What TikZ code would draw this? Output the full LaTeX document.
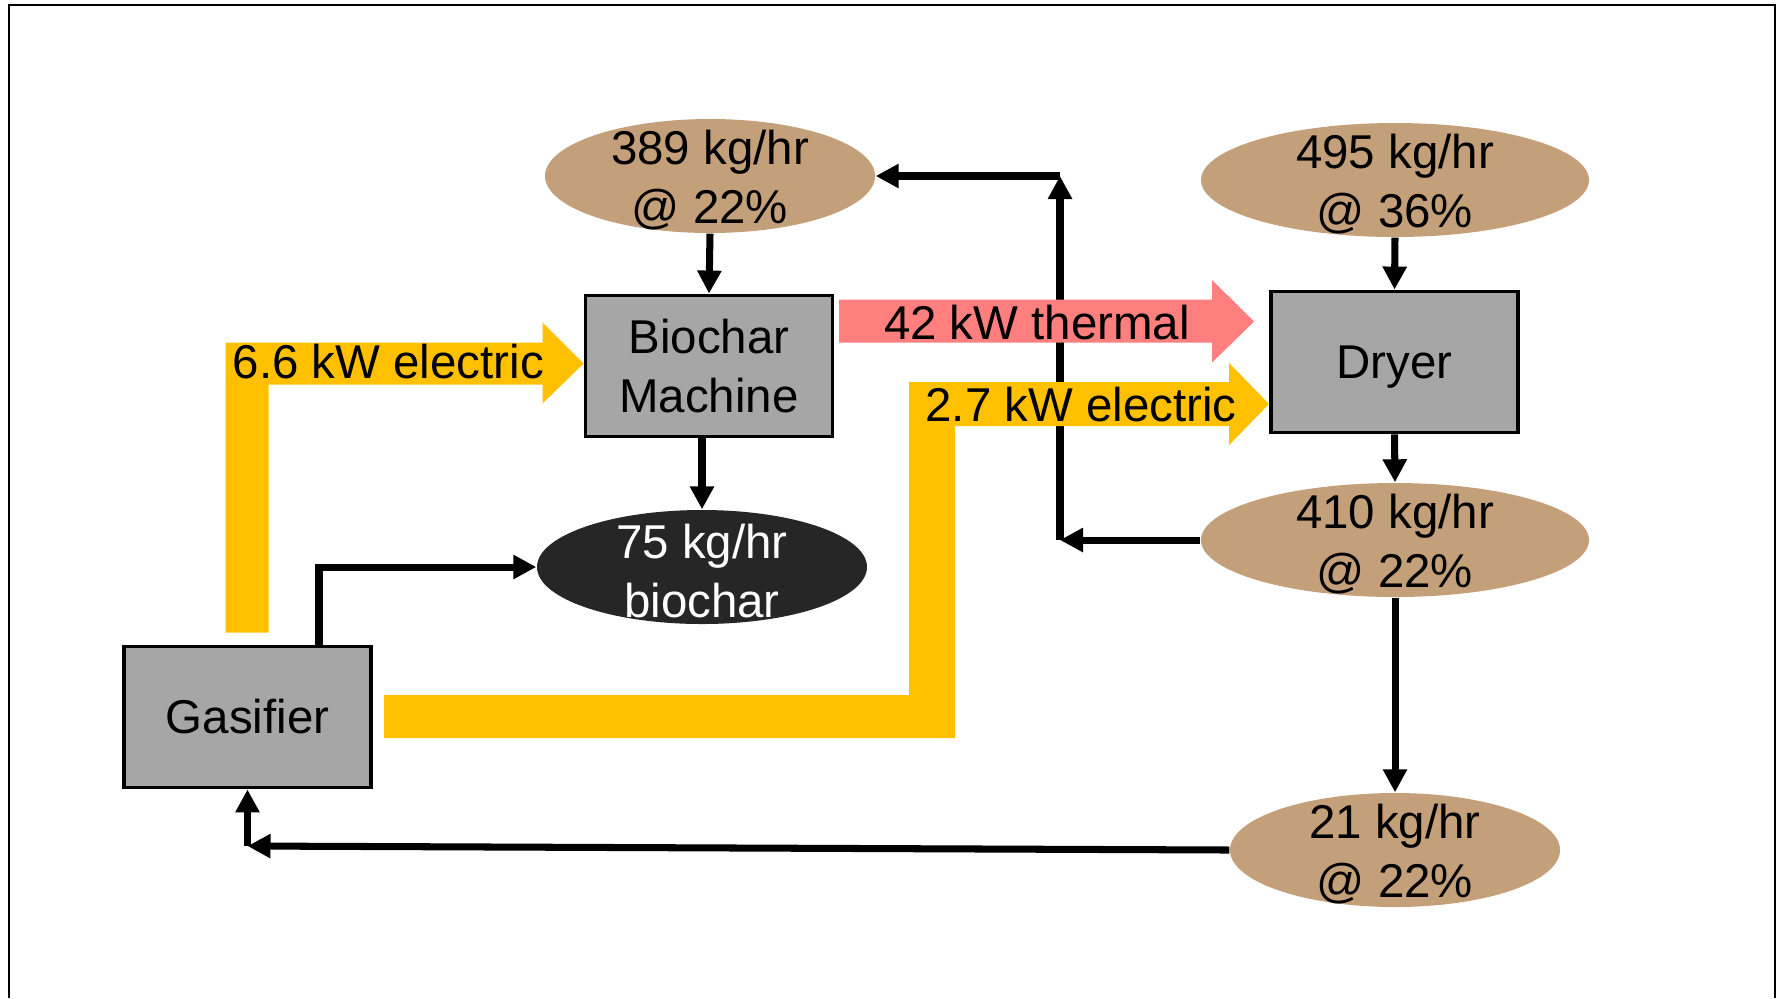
\documentclass[tikz,border=0pt]{standalone}
\usepackage{fontspec}
\setmainfont{Liberation Sans}
\usetikzlibrary{arrows.meta,shapes.geometric,calc}
\definecolor{wetwood}{HTML}{C4A07A}
\definecolor{unitgrey}{HTML}{A6A6A6}
\definecolor{charblack}{HTML}{262626}
\definecolor{elecgold}{HTML}{FFC000}
\definecolor{heatred}{HTML}{FF7F7F}

\begin{document}
\begin{tikzpicture}[x=1cm,y=1cm,>={Triangle[length=2.3mm,width=2.3mm]},line join=miter,
  font=\fontsize{13.5}{16.8}\selectfont,
  unit/.style={draw,line width=1.1pt,fill=unitgrey,minimum width=2.47cm,minimum height=1.41cm,align=center,inner sep=0pt},
  stream/.style={ellipse,fill=wetwood,minimum width=3.3cm,minimum height=1.14cm,inner sep=0pt},
  flowtext/.style={align=center,inner sep=0pt},
  streamtext/.style={flowtext,yshift=-0.04cm},
  link/.style={->,line width=2pt}]
\useasboundingbox (0,0) rectangle (17.81,-9.98);
\draw[line width=0.7pt] (0.09,-9.98) -- (0.09,-0.05) -- (17.75,-0.05) -- (17.75,-9.98);
\node[unit] (bm) at (7.09,-3.66) {Biochar\\Machine};
\node[unit,text depth=0pt] (dryer) at (13.945,-3.62) {Dryer};
\node[unit] (gas) at (2.475,-7.17) {Gasifier};
\node[stream,label={[streamtext]center:389 kg/hr\\@ 22\%}] (m389) at (7.10,-1.76) {};
\node[stream,minimum width=3.88cm,label={[streamtext]center:495 kg/hr\\@ 36\%}] (m495) at (13.95,-1.80) {};
\node[stream,minimum width=3.88cm,label={[streamtext]center:410 kg/hr\\@ 22\%}] (m410) at (13.95,-5.40) {};
\node[stream,label={[streamtext]center:21 kg/hr\\@ 22\%}] (m21) at (13.95,-8.50) {};
\node[stream,fill=charblack,label={[streamtext,text=white]center:75 kg/hr\\biochar}] (bc) at (7.02,-5.67) {};
% material flows
\coordinate (j1) at (10.60,-5.40);
\coordinate (j2) at (10.60,-1.76);
\coordinate (g1) at (3.19,-5.67);
\coordinate (g2) at (2.475,-8.46);
\draw[link] (m389.south) -- (bm.north);
\draw[link] (bm.south -| bc.north) -- (bc.north);
\draw[link] (m495.south) -- (dryer.north);
\draw[link] (dryer.south) -- (m410.north);
\draw[link] (m410.south) -- (m21.north);
\draw[link] (m410.west) -- (j1);
\draw[link] (j1) -- (j2);
\draw[link] (j2) -- (m389.east);
\draw[link] (gas.north -| g1) -- (g1) -- (bc.west);
\draw[link] (m21.west) -- (g2);
\draw[link] (g2) -- (gas.south);
% power and heat
\fill[elecgold] ($(bm.west)+(0,0.025)$) -- ++(-0.41,0.41) -- ++(0,-0.20) -- ++(-3.17,0) -- ++(0,-2.90) -- ++(0.43,0)
  -- ++(0,2.48) -- ++(2.74,0) -- ++(0,-0.19) -- cycle;
\fill[heatred] ($(dryer.west)+(-0.15,0.405)$) -- ++(-0.42,0.415) -- ++(0,-0.195) -- ++(-3.73,0) -- ++(0,-0.43)
  -- ++(3.73,0) -- ++(0,-0.20) -- cycle;
\fill[elecgold] ($(dryer.west)+(0,-0.42)$) -- ++(-0.40,0.41) -- ++(0,-0.19) -- ++(-3.20,0) -- ++(0,-3.13)
  -- ++(-5.25,0) -- ++(0,-0.43) -- ++(5.71,0) -- ++(0,3.12) -- ++(2.74,0) -- ++(0,-0.19) -- cycle;
\node[flowtext,anchor=west] (t66) at (2.32,-3.62) {6.6 kW electric};
\node[flowtext] (t42) at (10.37,-3.23) {42 kW thermal};
\node[flowtext] (t27) at (10.81,-4.05) {2.7 kW electric};
\end{tikzpicture}
\end{document}
